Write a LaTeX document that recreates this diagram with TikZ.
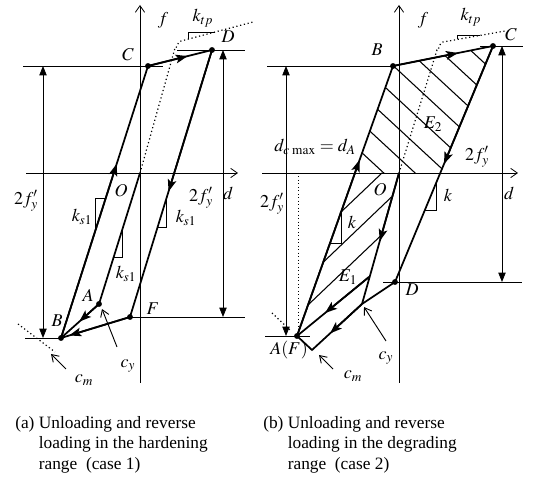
\documentclass[tikz,border=0pt]{standalone}
\usepackage{mathptmx}
\usepackage[no-math]{fontspec}
\setmainfont{Liberation Serif}
\usetikzlibrary{arrows.meta,calc}
\begin{document}
\begin{tikzpicture}[x=0.75pt,y=-0.75pt,
  thinl/.style={line width=0.5pt},
  crv/.style={line width=1.3pt},
  ax/.style={line width=0.6pt,-{Straight Barb[length=5pt,width=7pt]}},
  dimarr/.style={line width=0.6pt,{Triangle[length=7pt,width=5.5pt]}-{Triangle[length=7pt,width=5.5pt]}},
  tipa/.style={line width=1.3pt,-{Stealth[length=9pt,width=6.5pt,inset=2pt]}},
  ptr/.style={line width=0.7pt,-{Straight Barb[length=5pt,width=6.5pt]}},
  dots/.style={dotted,line width=0.9pt},
  lbl/.style={font=\fontsize{13.5}{15}\selectfont, inner sep=0pt},
  captxt/.style={font=\fontsize{13}{15.5}\selectfont, inner sep=0pt, anchor=north west, align=left},
  hatch/.style={line width=0.8pt}
]
\useasboundingbox (0,0) rectangle (536,491);

% ================= Panel (a) =================
\coordinate (O1) at (140,173);
\coordinate (C1) at (148,66);
\coordinate (D1) at (212,50);
\coordinate (B1) at (61,338);
\coordinate (A1) at (99,304);
\coordinate (F1) at (130,317);
\coordinate (fa1) at (140,383); \coordinate (fa1t) at (140,5);
\coordinate (da1) at (26,173);  \coordinate (da1t) at (238,173);

% axes
\draw[ax] (fa1) -- (fa1t);
\draw[ax] (da1) -- (da1t);

% thin level lines
\coordinate (hC1a) at (23,66);  \coordinate (hC1b) at (163,66);
\coordinate (hD1a) at (177,50); \coordinate (hD1b) at (245,50);
\coordinate (hB1a) at (25,338);
\coordinate (hF1b) at (245,317);
\draw[thinl] (hC1a) -- (hC1b);
\draw[thinl] (hD1a) -- (hD1b);
\draw[thinl] (hB1a) -- (B1);
\draw[thinl] (F1) -- (hF1b);

% dimension arrows
\coordinate (dl1a) at (43,66);  \coordinate (dl1b) at (43,338);
\coordinate (dr1a) at (223,50); \coordinate (dr1b) at (223,317);
\draw[dimarr] (dl1a) -- (dl1b);
\draw[dimarr] (dr1a) -- (dr1b);

% dotted envelope
\coordinate (e1a) at (175,48); \coordinate (e1b) at (181,41); \coordinate (e1c) at (253,22);
\draw[dots] (O1) -- (e1a) to[out=-75,in=175] (e1b) -- (e1c);
% k_tp triangle
\draw[thinl] (215,32) -- (188,32) -- (188,39.2);

% curves
\draw[crv] (B1) -- (C1) -- (D1) -- (F1) -- (B1);
\draw[crv] (O1) -- (A1) -- (B1);
\draw[tipa] (B1) -- ($(B1)!0.64!(C1)$);
\draw[tipa] (C1) -- ($(C1)!0.62!(D1)$);
\draw[tipa] (D1) -- ($(D1)!0.53!(F1)$);
\draw[tipa] (A1) -- ($(A1)!0.52!(B1)$);
\draw[tipa] (F1) -- ($(F1)!0.88!(B1)$);

% slope triangles
\draw[thinl] (105.8,198) -- (95,198) -- (95,231.7);
\draw[thinl] (113.7,257) -- (122,257) -- (122,230.5);
\draw[thinl] (157.6,227) -- (166,227) -- (166,199.8);

% c_m and c_y
\coordinate (cm1a) at (18,324); \coordinate (cm1b) at (55,352);
\draw[dots] (cm1a) -- (cm1b);
\coordinate (cmp1a) at (66,369); \coordinate (cmp1b) at (51,354);
\draw[ptr] (cmp1a) -- (cmp1b);
\coordinate (cyp1a) at (117,347); \coordinate (cyp1b) at (102,309);
\draw[ptr] (cyp1a) -- (cyp1b);

% points
\foreach \p in {C1,D1,B1,A1,F1} \fill (\p) circle (2.2pt);

% labels
\node[lbl] (lf1) at (163,20) {$f$};
\node[lbl] (ld1) at (228,193) {$d$};
\node[lbl] (lC1) at (128,55) {$C$};
\node[lbl] (lD1) at (228,37) {$D$};
\node[lbl] (lO1) at (121,191) {$O$};
\node[lbl] (lA1) at (88,295) {$A$};
\node[lbl] (lF1) at (153,309) {$F$};
\node[lbl] (lB1) at (57,321) {$B$};
\node[lbl] (lktp1) at (203,18) {$k_{tp}$};
\node[lbl] (lks1a) at (82,217) {$k_{s1}$};
\node[lbl] (lks1b) at (126,274) {$k_{s1}$};
\node[lbl] (lks1c) at (186,218) {$k_{s1}$};
\node[lbl] (l2fa) at (26,201) {$2f'_y$};
\node[lbl] (l2fb) at (201,198) {$2f'_y$};
\node[lbl] (lcm1) at (84,380) {$c_m$};
\node[lbl] (lcy1) at (128,366) {$c_y$};

% ================= Panel (b) =================
\coordinate (O2) at (399,173);
\coordinate (B2) at (393,66);
\coordinate (C2) at (493,46);
\coordinate (D2) at (395,282);
\coordinate (A2) at (297,336);
\coordinate (Y2) at (362,304);
\coordinate (M2) at (312,350);
\coordinate (Q2) at (369,277);
\coordinate (fa2) at (399,383); \coordinate (fa2t) at (399,5);
\coordinate (da2) at (262,173); \coordinate (da2t) at (518,173);

% hatch E2
\begin{scope}
\clip (355,173) -- (B2) -- (C2) -- (440.3,173) -- cycle;
\foreach \c in {-385,-356,-327,-298,-269,-240,-211,-182}
  \draw[hatch] (340,{314.5+\c}) -- (510,{471.75+\c});
\end{scope}
% hatch E1
\draw[hatch] (382,173) -- (340,213);
\draw[hatch] (391.5,197) -- (323.5,262);
\draw[hatch] (380.5,236) -- (308,305);

% axes
\draw[ax] (fa2) -- (fa2t);
\draw[ax] (da2) -- (da2t);

% thin level lines
\coordinate (hB2a) at (267,66);
\coordinate (hC2a) at (480,46); \coordinate (hC2b) at (523,46);
\coordinate (hD2a) at (383,282); \coordinate (hD2b) at (522,282);
\coordinate (hA2a) at (265,336); \coordinate (hA2b) at (310,336);
\draw[thinl] (hB2a) -- (B2);
\draw[thinl] (hC2a) -- (hC2b);
\draw[thinl] (hD2a) -- (hD2b);
\draw[thinl] (hA2a) -- (hA2b);

% dotted vertical at d_A
\coordinate (vA2a) at (298,173); \coordinate (vA2b) at (298,330);
\draw[dotted,line width=0.6pt] (vA2a) -- (vA2b);

% dimension arrows
\coordinate (dl2a) at (286,66);  \coordinate (dl2b) at (286,336);
\coordinate (dr2a) at (502,46);  \coordinate (dr2b) at (502,282);
\draw[dimarr] (dl2a) -- (dl2b);
\draw[dimarr] (dr2a) -- (dr2b);

% dotted envelope
\coordinate (e2a) at (437,50); \coordinate (e2b) at (443,42); \coordinate (e2c) at (505,31);
\draw[dots] (O2) -- (e2a) to[out=-72,in=175] (e2b) -- (e2c);
\draw[thinl] (480,35.8) -- (457,35.8) -- (457,39.5);

% curves
\draw[crv] (A2) -- (B2) -- (C2) -- (D2) -- (Y2) -- (M2) -- (A2);
\draw[crv] (O2) -- (Y2);
\draw[crv] (Q2) -- (A2);
\draw[tipa] (A2) -- ($(A2)!0.652!(B2)$);
\draw[tipa] (B2) -- ($(B2)!0.65!(C2)$);
\draw[tipa] (C2) -- ($(C2)!0.5!(D2)$);
\draw[tipa] (O2) -- ($(O2)!0.52!(Y2)$);
\draw[tipa] (Q2) -- ($(Q2)!0.61!(A2)$);
\draw[tipa] (Y2) -- ($(Y2)!0.64!(M2)$);

% slope triangles
\draw[thinl] (341,212.3) -- (341,243) -- (330,243);
\draw[thinl] (424.9,210) -- (436,210) -- (436,183.3);

% c_m and c_y
\coordinate (cm2a) at (272,313); \coordinate (cm2b) at (290,330);
\draw[dots] (cm2a) -- (cm2b);
\coordinate (cmp2a) at (333,369); \coordinate (cmp2b) at (319,355);
\draw[ptr] (cmp2a) -- (cmp2b);
\coordinate (cyp2a) at (386,341); \coordinate (cyp2b) at (364,307);
\draw[ptr] (cyp2a) -- (cyp2b);

% points
\foreach \p in {B2,C2,D2,A2} \fill (\p) circle (2.2pt);

% labels
\node[lbl] (lf2) at (423,20) {$f$};
\node[lbl] (ld2) at (509,193) {$d$};
\node[lbl] (lB2) at (377,50) {$B$};
\node[lbl] (lC2) at (511,35) {$C$};
\node[lbl] (lO2) at (380,190) {$O$};
\node[lbl] (lD2) at (412,290) {$D$};
\node[lbl] (lAF2) at (289,350) {$A(F)$};
\node[lbl] (lktp2) at (471,17) {$k_{tp}$};
\node[lbl] (lk2a) at (352,222) {$k$};
\node[lbl] (lk2b) at (448,195) {$k$};
\node[lbl] (lE2) at (433,124) {$E_2$};
\node[lbl] (lE1) at (348,277) {$E_1$};
\node[lbl] (l2fc) at (272,204) {$2f'_y$};
\node[lbl] (l2fd) at (477,157) {$2f'_y$};
\node[lbl] (ldc) at (315,147) {$d_{c\,\max}=d_A$};
\node[lbl] (lcm2) at (353,376) {$c_m$};
\node[lbl] (lcy2) at (386,358) {$c_y$};

% ================= Captions =================
\node[captxt] (capa) at (15,416) {(a) Unloading and reverse\\\hphantom{(a) }loading in the hardening\\\hphantom{(a) }range\ \ (case 1)};
\node[captxt] (capb) at (263,416) {(b) Unloading and reverse\\\hphantom{(b) }loading in the degrading\\\hphantom{(b) }range\ \ (case 2)};
\end{tikzpicture}
\end{document}
